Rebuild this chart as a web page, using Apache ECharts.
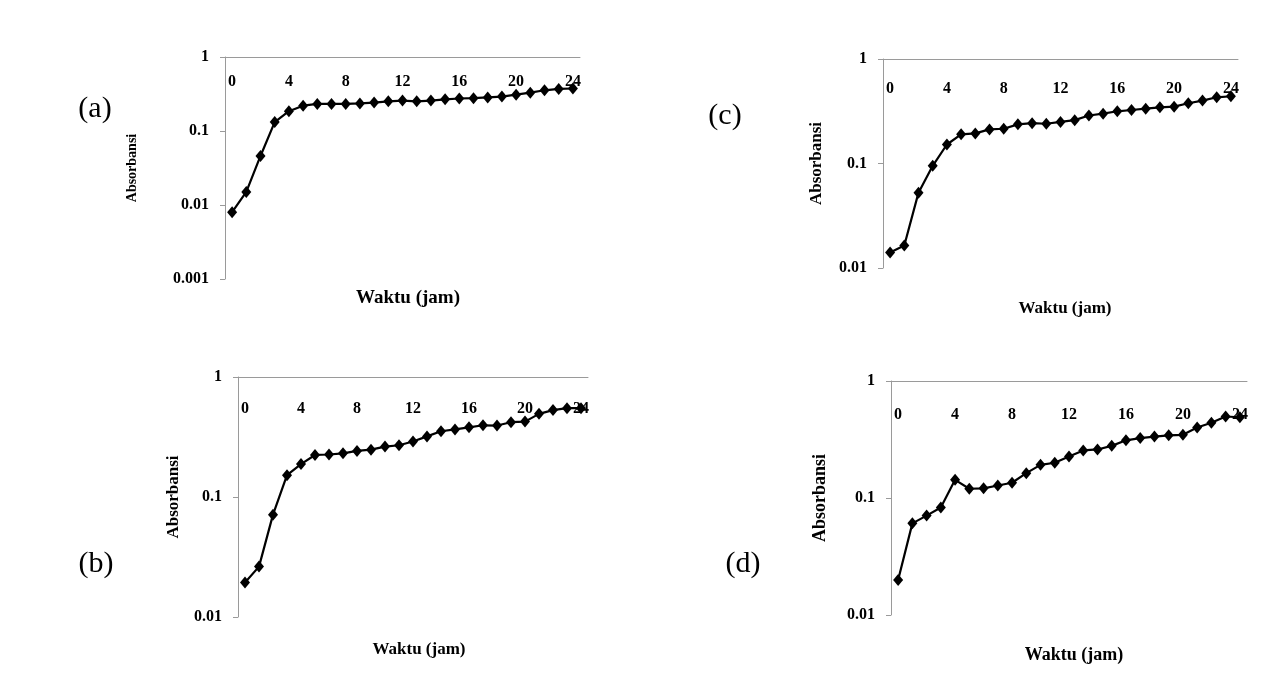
<!DOCTYPE html>
<html>
<head>
<meta charset="utf-8">
<script src="https://cdn.jsdelivr.net/npm/echarts@6/dist/echarts.min.js"></script>
<style>
  html, body { margin: 0; padding: 0; background: #fff; }
  #chart { width: 1280px; height: 695px; }
</style>
</head>
<body>
<div id="chart"></div>
<script>
// jam (hours), shared by all four panels
var hours = ['0', '1', '2', '3', '4', '5', '6', '7', '8', '9', '10', '11', '12',
  '13', '14', '15', '16', '17', '18', '19', '20', '21', '22', '23', '24']

// absorbansi
var seriesA = [0.008, 0.015, 0.046, 0.132, 0.185, 0.22, 0.232, 0.232, 0.232, 0.236, 0.242, 0.252, 0.258,
  0.252, 0.258, 0.268, 0.275, 0.278, 0.284, 0.292, 0.31, 0.33, 0.355, 0.37, 0.375]
var seriesB = [0.0194, 0.0263, 0.0713, 0.152, 0.188, 0.224, 0.226, 0.231, 0.242, 0.248, 0.263, 0.27, 0.29,
  0.32, 0.353, 0.366, 0.381, 0.396, 0.394, 0.42, 0.425, 0.493, 0.53, 0.55, 0.55]
var seriesC = [0.0141, 0.0164, 0.0526, 0.095, 0.152, 0.19, 0.194, 0.212, 0.215, 0.237, 0.243, 0.24, 0.25,
  0.26, 0.288, 0.3, 0.316, 0.325, 0.335, 0.345, 0.35, 0.377, 0.4, 0.43, 0.44]
var seriesD = [0.0199, 0.0607, 0.0707, 0.083, 0.143, 0.12, 0.121, 0.128, 0.135, 0.163, 0.192, 0.2, 0.226,
  0.255, 0.26, 0.279, 0.311, 0.325, 0.335, 0.343, 0.347, 0.4, 0.44, 0.497, 0.49]

var yMins = [0.001, 0.01, 0.01, 0.01]
var panelTags = ['(a)', '(b)', '(c)', '(d)']

var FONT = '"Liberation Serif", "Times New Roman", serif'
var AXIS_GRAY = '#9a9a9a'

// panel order: a, b, c, d
var grids = [
  { left: 225, top: 57, width: 355, height: 222 },
  { left: 238, top: 377, width: 350, height: 240 },
  { left: 883, top: 59, width: 355, height: 209 },
  { left: 891, top: 381, width: 356, height: 234 }
]
var tickEvery = [1, 3, 3, 3]
var xLabelMargin = [17, 24, 22, 26]
var nameGaps = [86, 56, 58, 62]
var nameSizes = [14, 17, 17, 18]
var waktuSizes = [19, 17, 17, 18]
var tagPos = [[90, 89], [91, 544], [720, 96], [738, 544]]
var waktuPos = [[403, 284], [414, 636], [1060, 295], [1069, 641]]

var allSeries = [seriesA, seriesB, seriesC, seriesD]

function pow10Label(v) {
  return String(Number(v.toPrecision(1)))
}

var chart = echarts.init(document.getElementById('chart'))

var option = {
  backgroundColor: '#ffffff',
  animation: false,
  grid: grids.map(function (g) {
    return { left: g.left, top: g.top, width: g.width, height: g.height, containLabel: false }
  }),
  xAxis: grids.map(function (g, i) {
    return {
      type: 'category',
      gridIndex: i,
      position: 'top',
      data: hours,
      boundaryGap: true,
      axisLine: { lineStyle: { color: AXIS_GRAY, width: 1 } },
      axisTick: {
        inside: true,
        length: 4,
        interval: tickEvery[i],
        lineStyle: { color: AXIS_GRAY }
      },
      axisLabel: {
        inside: true,
        interval: 3,
        margin: xLabelMargin[i],
        color: '#000',
        fontFamily: FONT,
        fontWeight: 'bold',
        fontSize: 16
      },
      splitLine: { show: false }
    }
  }),
  yAxis: grids.map(function (g, i) {
    return {
      type: 'log',
      logBase: 10,
      gridIndex: i,
      min: yMins[i],
      max: 1,
      name: 'Absorbansi',
      nameLocation: 'middle',
      nameRotate: 90,
      nameGap: nameGaps[i],
      nameTextStyle: {
        color: '#000',
        fontFamily: FONT,
        fontWeight: 'bold',
        fontSize: nameSizes[i]
      },
      axisLine: { show: true, lineStyle: { color: AXIS_GRAY, width: 1 } },
      axisTick: { show: true, length: 5, lineStyle: { color: AXIS_GRAY } },
      axisLabel: {
        margin: 16,
        color: '#000',
        fontFamily: FONT,
        fontWeight: 'bold',
        fontSize: 16,
        formatter: pow10Label
      },
      splitLine: { show: false }
    }
  }),
  title: grids.map(function (g, i) {
    return {
      text: 'Waktu (jam)',
      left: waktuPos[i][0],
      top: waktuPos[i][1],
      textAlign: 'center',
      textStyle: { color: '#000', fontFamily: FONT, fontWeight: 'bold', fontSize: waktuSizes[i] }
    }
  }).concat(panelTags.map(function (t, i) {
    return {
      text: t,
      left: tagPos[i][0],
      top: tagPos[i][1],
      textAlign: 'center',
      textStyle: { color: '#000', fontFamily: FONT, fontWeight: 'normal', fontSize: 30 }
    }
  })),
  series: allSeries.map(function (d, i) {
    return {
      type: 'line',
      xAxisIndex: i,
      yAxisIndex: i,
      data: d,
      symbol: 'diamond',
      symbolSize: [10, 12],
      showSymbol: true,
      showAllSymbol: true,
      itemStyle: { color: '#000' },
      lineStyle: { color: '#000', width: 2.2 }
    }
  })
}

chart.setOption(option)
</script>
</body>
</html>
